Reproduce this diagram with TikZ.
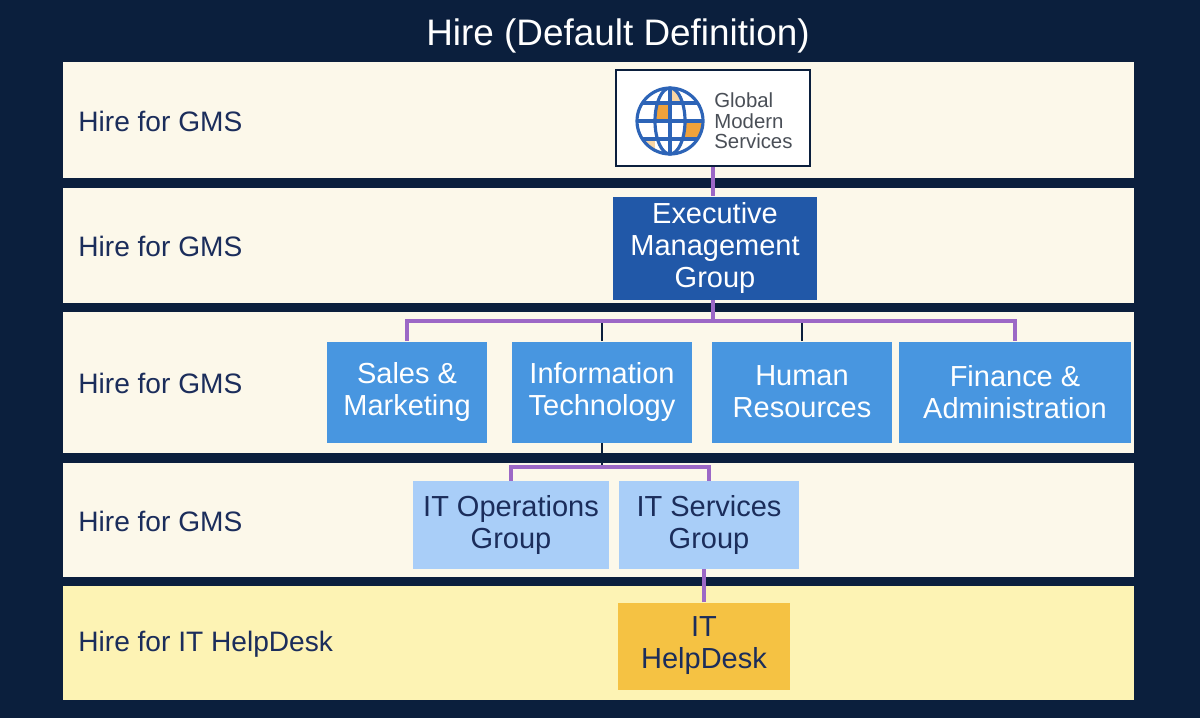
\documentclass[tikz,border=0pt]{standalone}
\usepackage{fontspec}
\setmainfont{Liberation Sans}
\definecolor{navy}{HTML}{0B1F3D}
\definecolor{cream}{HTML}{FCF8EA}
\definecolor{butter}{HTML}{FDF3B4}
\definecolor{inktext}{HTML}{1B2D5B}
\definecolor{execblue}{HTML}{2158A8}
\definecolor{deptblue}{HTML}{4896E0}
\definecolor{groupblue}{HTML}{A9CEF8}
\definecolor{deskgold}{HTML}{F5C243}
\definecolor{linkpurple}{HTML}{9C68C6}
\definecolor{globeblue}{HTML}{2D64B7}
\definecolor{globeorange}{HTML}{F0A23A}
\definecolor{globepale}{HTML}{F8D5A3}
\definecolor{logogray}{HTML}{4A4F57}

\begin{document}
\begin{tikzpicture}[x=0.02cm,y=-0.02cm,
  unitbox/.style={rectangle,align=center,inner sep=0pt,
    font=\fontsize{16.5}{18.2}\selectfont},
  execbox/.style={unitbox,fill=execblue,text=white,minimum width=4.08cm,minimum height=2.06cm},
  deptbox/.style={unitbox,fill=deptblue,text=white,minimum width=3.62cm,minimum height=2.02cm},
  groupbox/.style={unitbox,fill=groupblue,text=inktext,minimum width=3.62cm,minimum height=1.76cm},
  deskbox/.style={unitbox,fill=deskgold,text=inktext,minimum width=3.46cm,minimum height=1.74cm},
  bandlabel/.style={anchor=west,inner sep=0pt,text=inktext,font=\fontsize{16}{18}\selectfont},
  link/.style={linkpurple,line width=2.3pt},
  stub/.style={navy,line width=1.4pt}]

% background and bands
\fill[navy] (0,0) rectangle (1200,718);
\fill[cream] (63,62) rectangle (1134,178);
\fill[cream] (63,188) rectangle (1134,303);
\fill[cream] (63,312) rectangle (1134,453);
\fill[cream] (63,463) rectangle (1134,577);
\fill[butter] (63,586) rectangle (1134,700);

\node[text=white,font=\fontsize{21}{24}\selectfont] (title) at (618,36) {Hire (Default Definition)};

\node[bandlabel] (lab1) at (78,121) {Hire for GMS};
\node[bandlabel] (lab2) at (78,246) {Hire for GMS};
\node[bandlabel] (lab3) at (78,383) {Hire for GMS};
\node[bandlabel] (lab4) at (78,521) {Hire for GMS};
\node[bandlabel] (lab5) at (78,644) {Hire for IT HelpDesk};

% logo
\node[draw=navy,line width=1.4pt,fill=white,minimum width=3.88cm,minimum height=1.92cm] (logo) at (713,118) {};
\fill[white] (670,121) circle (33);
\begin{scope}
  \clip (670,121) circle (33);
  \fill[globeorange] (685,122) rectangle (705,140);
  \fill[globepale] (630,140) rectangle (655,160);
\end{scope}
\fill[white] (670,121) ellipse (15 and 33);
\begin{scope}
  \clip (670,121) ellipse (15 and 33);
  \fill[globeorange] (655,103) rectangle (670,122);
  \fill[globepale] (670,85) rectangle (685,103);
\end{scope}
\draw[globeblue,line width=1.8pt] (670,121) circle (33);
\draw[globeblue,line width=1.8pt] (670,121) ellipse (15 and 33);
\draw[globeblue,line width=1.8pt] (670,88) -- (670,154);
\draw[globeblue,line width=1.8pt] (637,121) -- (703,121);
\draw[globeblue,line width=1.8pt] (642,103) -- (698,103);
\draw[globeblue,line width=1.8pt] (642,139) -- (698,139);
\node[anchor=west,align=left,inner sep=0pt,text=logogray,font=\fontsize{11.6}{11.6}\selectfont] (logotext) at (714,121) {Global\\Modern\\Services};

% units
\node[execbox] (exec) at (715,248) {Executive\\Management\\Group};
\node[deptbox,minimum width=3.22cm] (sales) at (407,392) {Sales \&\\Marketing};
\node[deptbox] (info) at (602,392) {Information\\Technology};
\node[deptbox] (hr) at (802,392) {Human\\Resources};
\node[deptbox,minimum width=4.66cm] (fin) at (1015,392) {Finance \&\\Administration};
\node[groupbox,minimum width=3.94cm] (itops) at (511,525) {IT Operations\\Group};
\node[groupbox] (itsvc) at (709,525) {IT Services\\Group};
\node[deskbox] (desk) at (704,646) {IT\\HelpDesk};

% connectors
\coordinate (bus3) at (713,321);
\coordinate (bus4) at (605,467);
\draw[link] (logo.south) -- (logo.south |- exec.north);
\draw[stub] (info.north) -- (info.north |- bus3);
\draw[stub] (hr.north) -- (hr.north |- bus3);
\draw[link] (exec.south -| bus3) -- (bus3);
\draw[link] (sales.north) |- (bus3) -| (fin.north);
\draw[stub] (info.south) -- (info.south |- bus4);
\draw[link] (itops.north) |- (bus4) -| (itsvc.north);
\draw[link] (desk.north) -- (desk.north |- itsvc.south);
\end{tikzpicture}
\end{document}
